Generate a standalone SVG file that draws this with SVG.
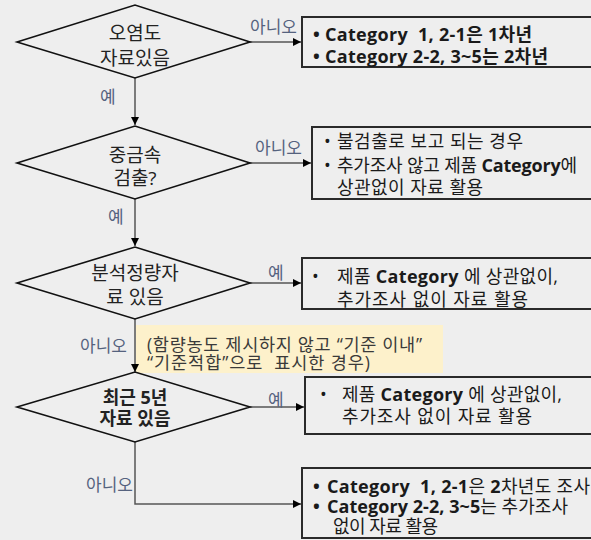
<svg xmlns="http://www.w3.org/2000/svg" width="591" height="540" viewBox="0 0 591 540" xml:space="preserve">
<style>
  text { font-family: "Open Sans", "Noto Sans CJK KR", sans-serif; fill: #1a1a1a; white-space: pre; }
  .dia { fill: none; stroke: #111; stroke-width: 1.6; }
  .box { fill: none; stroke: #2a2a2a; stroke-width: 2; }
  .dt { font-size: 19px; text-anchor: middle; fill: #222; }
  .bt { font-size: 18px; }
  .b { font-weight: bold; }
  .lbl { font-size: 17px; fill: #55627e; }
  .con { fill: none; stroke: #555; stroke-width: 1.5; }
  .note { font-size: 17.5px; fill: #3a3a3a; }
</style>
<defs>
  <marker id="ah" viewBox="0 0 10 10" refX="10" refY="5" markerWidth="8" markerHeight="8" markerUnits="userSpaceOnUse" orient="auto">
    <path d="M0,0 L10,5 L0,10 z" fill="#000"/>
  </marker>
</defs>
<rect x="0" y="0" width="591" height="540" fill="#eeeeee"/>

<g id="note">
  <rect x="136" y="325" width="307" height="48" fill="#fdf1cb"/>
  <text class="note" x="147" y="351" textLength="275">(함량농도 제시하지 않고 “기준 이내”</text>
  <text class="note" x="147" y="369" textLength="223">“기준적합”으로  표시한 경우)</text>
</g>

<g id="connectors">
  <path class="con" d="M250,42 H301" marker-end="url(#ah)"/>
  <path class="con" d="M135,78 V125" marker-end="url(#ah)"/>
  <path class="con" d="M250,163 H311" marker-end="url(#ah)"/>
  <path class="con" d="M135,199 V246" marker-end="url(#ah)"/>
  <path class="con" d="M250,283 H301" marker-end="url(#ah)"/>
  <path class="con" d="M135,319 V372" marker-end="url(#ah)"/>
  <path class="con" d="M250,407 H304" marker-end="url(#ah)"/>
  <path class="con" d="M135,442 V504 H301" marker-end="url(#ah)"/>
  <text class="lbl" x="250" y="33">아니오</text>
  <text class="lbl" x="100" y="103">예</text>
  <text class="lbl" x="255" y="154">아니오</text>
  <text class="lbl" x="108" y="223">예</text>
  <text class="lbl" x="268" y="279">예</text>
  <text class="lbl" x="80" y="352">아니오</text>
  <text class="lbl" x="268" y="406">예</text>
  <text class="lbl" x="86" y="491">아니오</text>
</g>

<g id="d1">
  <polygon class="dia" points="17,42 135,5 250,42 135,78"/>
  <text class="dt" x="135" y="40">오염도</text>
  <text class="dt" x="135" y="65">자료있음</text>
</g>
<g id="d2">
  <polygon class="dia" points="17,163 135,126 250,163 135,199"/>
  <text class="dt" x="135" y="162">중금속</text>
  <text class="dt" x="135" y="185">검출?</text>
</g>
<g id="d3">
  <polygon class="dia" points="17,283 135,247 250,283 135,319"/>
  <text class="dt" x="135" y="280">분석정량자</text>
  <text class="dt" x="135" y="304">료 있음</text>
</g>
<g id="d4">
  <polygon class="dia" points="17,407 135,372 250,407 135,442"/>
  <text class="dt b" x="135" y="404" style="font-size:18px">최근 5년</text>
  <text class="dt b" x="135" y="425" style="font-size:18px">자료 있음</text>
</g>

<g id="b1">
  <rect class="box" x="302" y="17" width="300" height="50"/>
  <text class="bt b" x="313" y="41">•</text>
  <text class="bt b" x="325" y="41" textLength="207">Category  1, 2-1은 1차년</text>
  <text class="bt b" x="313" y="63">•</text>
  <text class="bt b" x="325" y="63" textLength="223">Category 2-2, 3~5는 2차년</text>
</g>
<g id="b2">
  <rect class="box" x="312" y="127" width="300" height="72"/>
  <text class="bt" x="324" y="148">•</text>
  <text class="bt" x="337" y="148" textLength="186">불검출로 보고 되는 경우</text>
  <text class="bt" x="324" y="172">•</text>
  <text class="bt" x="337" y="172" textLength="240">추가조사 않고 제품 <tspan class="b">Category</tspan>에</text>
  <text class="bt" x="337" y="194" textLength="146">상관없이 자료 활용</text>
</g>
<g id="b3">
  <rect class="box" x="302" y="258" width="300" height="51"/>
  <text class="bt" x="312" y="283">•</text>
  <text class="bt" x="337" y="283" textLength="221">제품 <tspan class="b">Category</tspan> 에 상관없이,</text>
  <text class="bt" x="337" y="306" textLength="191">추가조사 없이 자료 활용</text>
</g>
<g id="b4">
  <rect class="box" x="305" y="377" width="300" height="57"/>
  <text class="bt" x="320" y="401">•</text>
  <text class="bt" x="342" y="401" textLength="220">제품 <tspan class="b">Category</tspan> 에 상관없이,</text>
  <text class="bt" x="342" y="423" textLength="190">추가조사 없이 자료 활용</text>
</g>
<g id="b5">
  <rect class="box" x="302" y="468" width="300" height="70"/>
  <text class="bt b" x="313" y="493">•</text>
  <text class="bt" x="327" y="493" textLength="263"><tspan class="b">Category  1, 2-1</tspan>은 <tspan class="b">2</tspan>차년도 조사</text>
  <text class="bt b" x="313" y="513">•</text>
  <text class="bt" x="327" y="513" textLength="241"><tspan class="b">Category 2-2, 3~5</tspan>는 추가조사</text>
  <text class="bt" x="333" y="533" textLength="105">없이 자료 활용</text>
</g>
</svg>
